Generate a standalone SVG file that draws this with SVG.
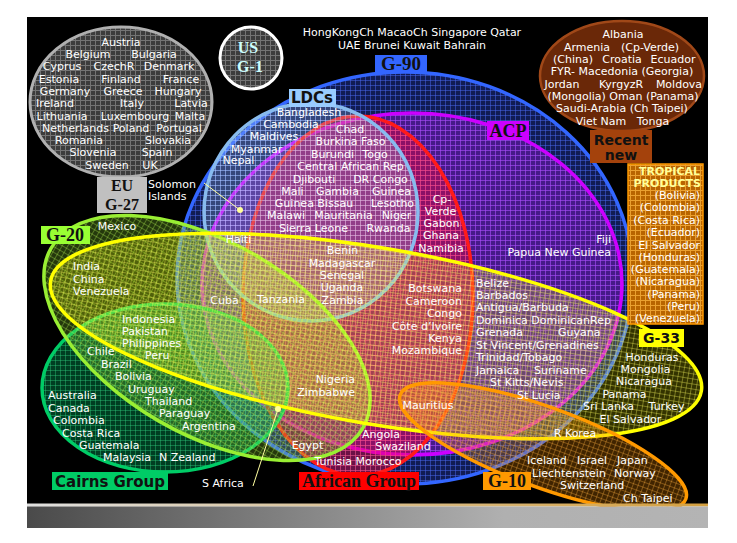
<svg xmlns="http://www.w3.org/2000/svg" width="737" height="543" viewBox="0 0 737 543">
<defs>
<style>
.t{font-family:"DejaVu Sans",Verdana,sans-serif;font-size:11px;fill:#fff}
.m{text-anchor:middle}
.e{text-anchor:end}
.lb{font-family:"Liberation Serif","Times New Roman",serif;font-weight:bold;fill:#111;text-anchor:middle}
.ls{font-family:"DejaVu Sans",Verdana,sans-serif;font-weight:bold;fill:#111;text-anchor:middle}
.ring{stroke-width:3.5}
.lead{stroke:#ffffa0;stroke-width:1;fill:none}
</style>
<pattern id="pEU" width="5" height="5" patternUnits="userSpaceOnUse"><rect width="5" height="5" fill="#3c3c3c"/><path d="M0 .5H5M.5 0V5" stroke="#747474" stroke-width="1"/></pattern>
<pattern id="pG90" width="5" height="5" patternUnits="userSpaceOnUse"><rect width="5" height="5" fill="#3050f0" fill-opacity=".35"/><path d="M0 .5H5M.5 0V5" stroke="#4a68f0" stroke-opacity=".5"/></pattern>
<pattern id="pACP" width="5" height="5" patternUnits="userSpaceOnUse"><rect width="5" height="5" fill="#9018d0" fill-opacity=".42"/><path d="M0 .5H5M.5 0V5" stroke="#b848f0" stroke-opacity=".45"/></pattern>
<pattern id="pAF" width="5" height="5" patternUnits="userSpaceOnUse"><rect width="5" height="5" fill="#ff0030" fill-opacity=".38"/><path d="M0 .5H5M.5 0V5" stroke="#ff5070" stroke-opacity=".45"/></pattern>
<pattern id="pLDC" width="5" height="5" patternUnits="userSpaceOnUse"><rect width="5" height="5" fill="#a0c8f0" fill-opacity=".25"/><path d="M0 .5H5M.5 0V5" stroke="#c8e0ff" stroke-opacity=".35"/></pattern>
<pattern id="pCA" width="5" height="5" patternUnits="userSpaceOnUse"><rect width="5" height="5" fill="#00b060" fill-opacity=".35"/><path d="M0 .5H5M.5 0V5" stroke="#30d080" stroke-opacity=".4"/></pattern>
<pattern id="pG20" width="5" height="5" patternUnits="userSpaceOnUse"><rect width="5" height="5" fill="#90e030" fill-opacity=".25"/><path d="M0 .5H5M.5 0V5" stroke="#b0f050" stroke-opacity=".35"/></pattern>
<pattern id="pG33" width="5" height="5" patternUnits="userSpaceOnUse"><rect width="5" height="5" fill="#ffff00" fill-opacity=".2"/><path d="M0 .5H5M.5 0V5" stroke="#ffff60" stroke-opacity=".35"/></pattern>
<pattern id="pG10" width="5" height="5" patternUnits="userSpaceOnUse"><rect width="5" height="5" fill="#ff9000" fill-opacity=".25"/><path d="M0 .5H5M.5 0V5" stroke="#ffb040" stroke-opacity=".35"/></pattern>
<pattern id="pTP" width="5" height="5" patternUnits="userSpaceOnUse"><rect width="5" height="5" fill="#b86400"/><path d="M0 .5H5M.5 0V5" stroke="#eaa030"/></pattern>
<linearGradient id="bar" x1="0" x2="1"><stop offset="0" stop-color="#4a4a4a"/><stop offset=".7" stop-color="#b0b0b0"/><stop offset="1" stop-color="#b4b4b4"/></linearGradient>
<linearGradient id="barl" x1="0" x2="1"><stop offset="0" stop-color="#e0e0e0"/><stop offset="1" stop-color="#d4a040"/></linearGradient>
</defs>
<rect width="737" height="543" fill="#fff"/>
<rect x="27" y="17" width="681" height="488" fill="#000"/>

<g id="G90"><ellipse cx="405" cy="278" rx="228" ry="206" fill="url(#pG90)" stroke="#3366ff" class="ring"/></g>
<g id="ACP"><ellipse cx="412" cy="284" rx="210" ry="171" fill="url(#pACP)" stroke="#cc00ff" class="ring"/></g>
<g id="African"><ellipse cx="358" cy="296" rx="115" ry="180" fill="url(#pAF)" stroke="#ff1a1a" class="ring"/></g>
<g id="LDCs"><ellipse cx="311" cy="212" rx="107" ry="109" fill="url(#pLDC)" stroke="#88bbee" class="ring"/></g>
<g id="Cairns"><ellipse cx="165" cy="388" rx="123" ry="84" fill="url(#pCA)" stroke="#00cc66" class="ring"/></g>
<g id="G20"><ellipse cx="207" cy="338" rx="180" ry="96" transform="rotate(30 207 338)" fill="url(#pG20)" stroke="#99ee33" class="ring"/></g>
<g id="G33"><ellipse cx="376" cy="336" rx="330" ry="88" transform="rotate(9.6 376 336)" fill="url(#pG33)" stroke="#ffff00" class="ring"/></g>
<g id="G10"><ellipse cx="543" cy="447" rx="152" ry="40" transform="rotate(20 543 447)" fill="url(#pG10)" stroke="#ff9900" class="ring"/></g>

<g id="bottombar"><rect x="27" y="503.5" width="681" height="3" fill="url(#barl)"/><rect x="27" y="506.5" width="681" height="21.5" fill="url(#bar)"/></g>

<g id="EU">
<ellipse cx="121" cy="102" rx="91" ry="75" fill="url(#pEU)" stroke="#b0b0b0" stroke-width="3"/>
<rect x="97" y="177" width="50" height="36" fill="#c0c0c0"/>
<text class="lb" x="122" y="190.5" font-size="16">EU</text>
<text class="lb" x="122" y="209.5" font-size="16">G-27</text>
<g class="t m">
<text x="121" y="46">Austria</text>
<text x="88" y="58">Belgium</text><text x="154" y="58">Bulgaria</text>
<text x="62" y="70">Cyprus</text><text x="114" y="70">CzechR</text><text x="169" y="70">Denmark</text>
<text x="59" y="83">Estonia</text><text x="121" y="83">Finland</text><text x="181" y="83">France</text>
<text x="65" y="95">Germany</text><text x="123" y="95">Greece</text><text x="178" y="95">Hungary</text>
<text x="55" y="107">Ireland</text><text x="132" y="107">Italy</text><text x="191" y="107">Latvia</text>
<text x="62" y="120">Lithuania</text><text x="135" y="120">Luxembourg</text><text x="190" y="120">Malta</text>
<text x="75.5" y="132">Netherlands</text><text x="131" y="132">Poland</text><text x="179" y="132">Portugal</text>
<text x="79" y="144">Romania</text><text x="168" y="144">Slovakia</text>
<text x="93" y="156">Slovenia</text><text x="157" y="156">Spain</text>
<text x="107" y="169">Sweden</text><text x="150" y="169">UK</text>
</g>
</g>

<g id="US">
<circle cx="251" cy="58" r="31" fill="url(#pEU)" stroke="#fff" stroke-width="3"/>
<text class="lb" x="248" y="53" font-size="16" style="fill:#ccffff">US</text>
<text class="lb" x="250" y="72" font-size="16" style="fill:#ccffff">G-1</text>
</g>

<g id="others" class="t m">
<text x="412" y="36">HongKongCh MacaoCh Singapore Qatar</text>
<text x="412" y="49">UAE Brunei Kuwait Bahrain</text>
</g>

<g id="Recent">
<ellipse cx="622" cy="76" rx="82" ry="55" fill="#6a2808" stroke="#a04818" stroke-width="2.5"/>
<rect x="590" y="130" width="62" height="33" fill="#a4420c"/>
<text class="ls" x="621" y="144.5" font-size="14">Recent</text>
<text class="ls" x="621" y="160" font-size="14">new</text>
<g class="t m">
<text x="623" y="38">Albania</text>
<text x="587" y="51">Armenia</text><text x="650" y="51">(Cp-Verde)</text>
<text x="573" y="62.5">(China)</text><text x="622" y="62.5">Croatia</text><text x="673" y="62.5">Ecuador</text>
<text x="622" y="75">FYR- Macedonia (Georgia)</text>
<text x="562" y="87.5">Jordan</text><text x="621" y="87.5">KyrgyzR</text><text x="679" y="87.5">Moldova</text>
<text x="623" y="99.5">(Mongolia) Oman (Panama)</text>
<text x="622" y="111.5">Saudi-Arabia (Ch Taipei)</text>
<text x="601" y="125">Viet Nam</text><text x="653" y="125">Tonga</text>
</g>
</g>

<g id="Tropical">
<rect x="628" y="164" width="75" height="160" fill="url(#pTP)" stroke="#ff9900" stroke-width="1.5"/>
<g class="t e">
<text x="700" y="175" style="fill:#ffff99;font-weight:bold">TROPICAL</text>
<text x="701" y="187" style="fill:#ffff99;font-weight:bold">PRODUCTS</text>
<text x="700" y="198.5">(Bolivia)</text>
<text x="700" y="211">(Colombia)</text>
<text x="700" y="224">(Costa Rica)</text>
<text x="700" y="236">(Ecuador)</text>
<text x="700" y="248.5">El Salvador</text>
<text x="700" y="261">(Honduras)</text>
<text x="700" y="273">(Guatemala)</text>
<text x="700" y="285">(Nicaragua)</text>
<text x="700" y="297.5">(Panama)</text>
<text x="700" y="310">(Peru)</text>
<text x="700" y="322">(Venezuela)</text>
</g>
</g>

<g id="connectors">
<path class="lead" d="M204 183L240 210"/><circle cx="240" cy="210" r="3" fill="#ffff99"/>
<path class="lead" d="M278 409L253 486"/><circle cx="278" cy="409" r="3" fill="#ffff99"/>
</g>

<g id="countries" class="t">
<g class="m">
<text x="309" y="116">Bangladesh</text>
<text x="291" y="128">Cambodia</text>
<text x="274" y="140">Maldives</text>
<text x="256.5" y="152.5">Myanmar</text>
<text x="238.5" y="164">Nepal</text>
<text x="350" y="132.5">Chad</text>
<text x="350.5" y="145">Burkina Faso</text>
<text x="332.5" y="157.5">Burundi</text><text x="375" y="157.5">Togo</text>
<text x="350.5" y="170">Central African Rep</text>
<text x="314" y="182.5">Djibouti</text><text x="380.5" y="182.5">DR Congo</text>
<text x="292.5" y="194.5">Mali</text><text x="337.5" y="194.5">Gambia</text><text x="391.5" y="194.5">Guinea</text>
<text x="314" y="206.5">Guinea Bissau</text><text x="392.5" y="206.5">Lesotho</text>
<text x="286" y="219">Malawi</text><text x="343.5" y="219">Mauritania</text><text x="396.5" y="219">Niger</text>
<text x="313.5" y="231.5">Sierra Leone</text><text x="388.5" y="231.5">Rwanda</text>
<text x="442" y="202.5">Cp-</text>
<text x="440.5" y="215">Verde</text>
<text x="441.5" y="227">Gabon</text>
<text x="441" y="239">Ghana</text>
<text x="441" y="251.5">Namibia</text>
<text x="238.5" y="242.5">Haiti</text>
<text x="342.5" y="254">Benin</text>
<text x="342" y="267">Madagascar</text>
<text x="342" y="279">Senegal</text>
<text x="342" y="291">Uganda</text>
<text x="342.5" y="303.5">Zambia</text>
<text x="224.5" y="304">Cuba</text>
<text x="281" y="302.5">Tanzania</text>
<text x="428" y="408.5">Mauritius</text>
<text x="381" y="437.5">Angola</text>
<text x="403" y="449.5">Swaziland</text>
<text x="307.5" y="449">Egypt</text>
<text x="358" y="465">Tunisia Morocco</text>
<text x="117" y="230">Mexico</text>
<text x="652" y="361">Honduras</text>
<text x="645.5" y="373">Mongolia</text>
<text x="644" y="385">Nicaragua</text>
<text x="624.5" y="397.5">Panama</text>
<text x="608.5" y="410">Sri Lanka</text><text x="666.5" y="410">Turkey</text>
<text x="630.5" y="422.5">El Salvador</text>
<text x="575" y="436.5">R Korea</text>
</g>
<g class="e">
<text x="462" y="292">Botswana</text>
<text x="462" y="304.5">Cameroon</text>
<text x="462" y="317">Congo</text>
<text x="462" y="329.5">Côte d’Ivoire</text>
<text x="462" y="341.5">Kenya</text>
<text x="462" y="354">Mozambique</text>
<text x="355" y="383">Nigeria</text>
<text x="355" y="395.5">Zimbabwe</text>
<text x="611" y="243">Fiji</text>
<text x="611" y="255.5">Papua New Guinea</text>
</g>
<text x="476" y="287">Belize</text>
<text x="476" y="299">Barbados</text>
<text x="476" y="311">Antigua/Barbuda</text>
<text x="476" y="323.5">Dominica DominicanRep</text>
<text x="476" y="336">Grenada</text><text x="558" y="336">Guyana</text>
<text x="476" y="348.5">St Vincent/Grenadines</text>
<text x="476" y="361">Trinidad/Tobago</text>
<text x="476" y="373.5">Jamaica</text><text x="534" y="373.5">Suriname</text>
<text x="490" y="386">St Kitts/Nevis</text>
<text x="517" y="398.5">St Lucia</text>
<text x="148" y="187.5">Solomon</text>
<text x="148" y="199.5">Islands</text>
<text x="73" y="270">India</text>
<text x="73" y="282.5">China</text>
<text x="73" y="294.5">Venezuela</text>
<text x="122" y="322.5">Indonesia</text>
<text x="122" y="334.5">Pakistan</text>
<text x="122" y="347">Philippines</text>
<text x="145" y="359">Peru</text>
<text x="87" y="355">Chile</text>
<text x="101" y="367.5">Brazil</text>
<text x="115" y="380">Bolivia</text>
<text x="128" y="392.5">Uruguay</text>
<text x="145" y="404.5">Thailand</text>
<text x="159" y="417">Paraguay</text>
<text x="182" y="429.5">Argentina</text>
<text x="48" y="399">Australia</text>
<text x="48" y="411.5">Canada</text>
<text x="53" y="424">Colombia</text>
<text x="62" y="436.5">Costa Rica</text>
<text x="79" y="449">Guatemala</text>
<text x="103" y="461">Malaysia</text>
<text x="159" y="461">N Zealand</text>
<text x="202" y="487">S Africa</text>
<text x="527" y="464">Iceland</text><text x="577" y="464">Israel</text><text x="617" y="464">Japan</text>
<text x="532" y="476.5">Liechtenstein</text><text x="614" y="476.5">Norway</text>
<text x="560" y="489">Switzerland</text>
<text x="623" y="501.5">Ch Taipei</text>
</g>

<g id="labels">
<rect x="375" y="55" width="52" height="17" fill="#3366ff"/><text class="lb" x="401" y="70" font-size="19">G-90</text>
<rect x="289" y="89" width="47" height="18" fill="#99ccff"/><text class="ls" x="312" y="103" font-size="15">LDCs</text>
<rect x="487" y="121" width="42" height="19" fill="#cc00ff"/><text class="lb" x="508" y="137" font-size="18">ACP</text>
<rect x="41" y="226" width="49" height="18" fill="#99ff33"/><text class="lb" x="65" y="241" font-size="18">G-20</text>
<rect x="639" y="329" width="45" height="18" fill="#ffff00"/><text class="ls" x="661.5" y="343" font-size="14">G-33</text>
<rect x="52" y="472" width="116" height="18" fill="#00cc66"/><text class="ls" x="110" y="487" font-size="15">Cairns Group</text>
<rect x="299" y="472" width="120" height="18" fill="#ff0000"/><text class="lb" x="359" y="487" font-size="18">African Group</text>
<rect x="483" y="472" width="48" height="18" fill="#ff9900"/><text class="lb" x="507" y="487" font-size="18">G-10</text>
</g>
</svg>
